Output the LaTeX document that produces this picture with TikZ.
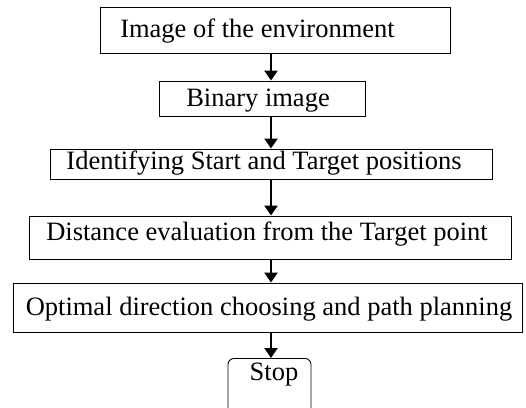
\documentclass[tikz,border=0pt]{standalone}
\usepackage{fontspec}
\setmainfont{Liberation Serif}
\usetikzlibrary{arrows.meta}
\begin{document}
\begin{tikzpicture}[x=1pt,y=-1pt,
  box/.style={draw=black,line width=0.9pt,inner sep=0pt},
  txt/.style={anchor=base,inner sep=0pt,font=\fontsize{26.5}{30}\selectfont},
  flow/.style={line width=2.4pt,-{Triangle[length=10pt,width=13pt]}}]
\useasboundingbox (0,0) rectangle (526,407);
\clip (0,0) rectangle (526,407);
\coordinate (ax) at (271,0);
\node[box,minimum width=350pt,minimum height=46pt] (b1) at (275,30) {};
\node[box,minimum width=206pt,minimum height=35pt] (b2) at (262,98.5) {};
\node[box,minimum width=442pt,minimum height=30pt] (b3) at (271,164) {};
\node[box,minimum width=482pt,minimum height=43pt] (b4) at (270,237.5) {};
\node[box,minimum width=509pt,minimum height=49pt] (b5) at (267.5,307.5) {};
\node[box,rounded corners=6pt,minimum width=83pt,minimum height=62pt,anchor=north] (stop) at (269.5,358) {};
\node[txt] (t1) at (257.5,37) {Image of the environment};
\node[txt] (t2) at (258,106) {Binary image};
\node[txt] (t3) at (264,169.5) {Identifying Start and Target positions};
\node[txt] (t4) at (267,240.5) {Distance evaluation from the Target point};
\node[txt] (t5) at (269,315) {Optimal direction choosing and path planning};
\node[txt] (t6) at (274,380) {Stop};
\draw[flow] (b1.south -| ax) -- (b2.north -| ax);
\draw[flow] (b2.south -| ax) -- (b3.north -| ax);
\draw[flow] (b3.south -| ax) -- (b4.north -| ax);
\draw[flow] (b4.south -| ax) -- (b5.north -| ax);
\draw[flow] (b5.south -| ax) -- (stop.north -| ax);
\end{tikzpicture}
\end{document}
